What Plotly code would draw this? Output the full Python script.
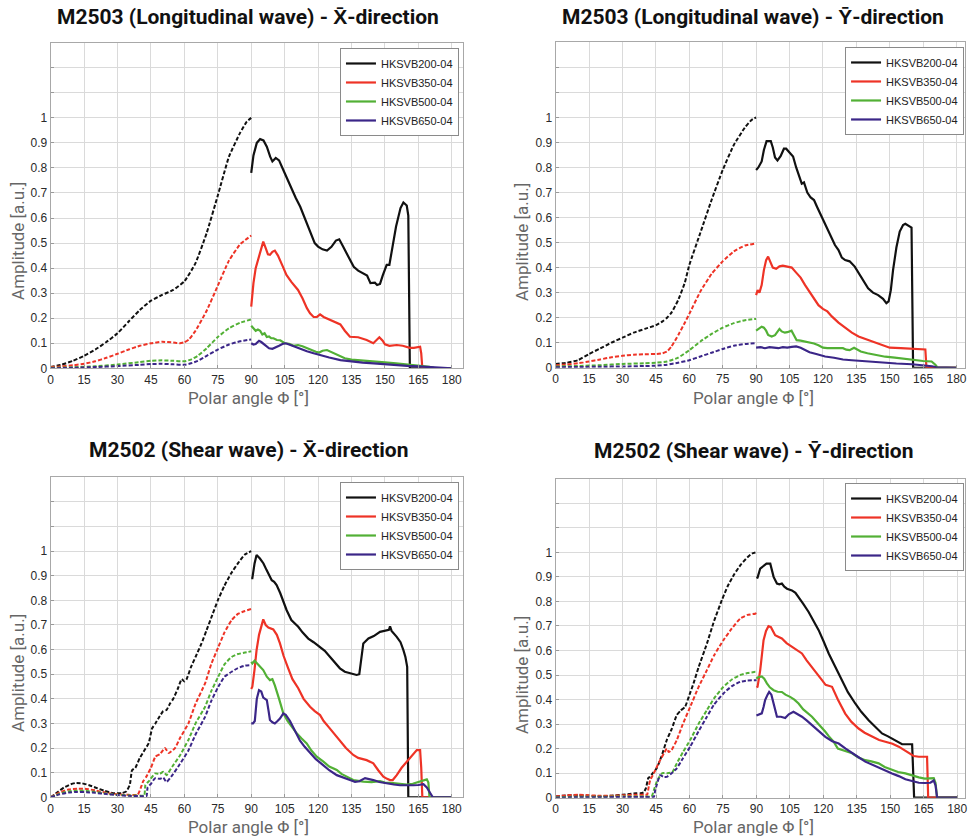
import plotly.graph_objects as go

# ---------------- data ----------------
probes = ["HKSVB200-04", "HKSVB350-04", "HKSVB500-04", "HKSVB650-04"]
colors = ["#111111", "#ee3326", "#52b035", "#3b2688"]
titles = ["M2503 (Longitudinal wave) - X\u0304-direction",
          "M2503 (Longitudinal wave) - Y\u0304-direction",
          "M2502 (Shear wave) - X\u0304-direction",
          "M2502 (Shear wave) - Y\u0304-direction"]
x_ticks = [0, 15, 30, 45, 60, 75, 90, 105, 120, 135, 150, 165, 180]
y_ticks = [0, 0.1, 0.2, 0.3, 0.4, 0.5, 0.6, 0.7, 0.8, 0.9, 1.0, 1.1, 1.2]
y_ticklabels = ["0", "0.1", "0.2", "0.3", "0.4", "0.5", "0.6", "0.7", "0.8", "0.9", "1", "", ""]

# ---- Panel 1: M2503 longitudinal, X direction ----
lx_200_in_deg = [0, 5, 10, 15, 20, 25, 30, 35, 40, 45, 50, 55, 60, 65, 70, 75, 80, 85, 88, 90]
lx_200_in_amp = [0.005, 0.015, 0.03, 0.05, 0.075, 0.105, 0.14, 0.187, 0.233, 0.27, 0.293, 0.313, 0.347, 0.42, 0.54, 0.69, 0.845, 0.94, 0.985, 1.0]
lx_350_in_deg = [0, 5, 10, 15, 20, 25, 30, 35, 40, 45, 50, 55, 58, 60, 62, 65, 70, 75, 80, 85, 90]
lx_350_in_amp = [0.005, 0.008, 0.012, 0.018, 0.028, 0.042, 0.058, 0.075, 0.09, 0.1, 0.106, 0.103, 0.1, 0.104, 0.115, 0.15, 0.23, 0.33, 0.43, 0.495, 0.53]
lx_500_in_deg = [0, 10, 20, 30, 40, 45, 50, 55, 60, 63, 66, 70, 75, 80, 85, 90]
lx_500_in_amp = [0.002, 0.004, 0.008, 0.015, 0.025, 0.03, 0.032, 0.03, 0.028, 0.035, 0.05, 0.08, 0.125, 0.16, 0.182, 0.195]
lx_650_in_deg = [0, 10, 20, 30, 40, 45, 50, 55, 60, 63, 66, 70, 75, 80, 85, 90]
lx_650_in_amp = [0.0, 0.002, 0.005, 0.009, 0.014, 0.017, 0.018, 0.016, 0.014, 0.02, 0.03, 0.05, 0.075, 0.095, 0.108, 0.115]

lx_200_out_deg = [90, 91, 92.5, 94, 95.5, 97, 98.5, 99.5, 101, 102.5, 104, 105.5, 107.5, 110, 112, 114, 116.5, 118.5, 120, 122, 124, 126, 128, 129.5, 131, 133, 136, 138, 140, 142, 143.5, 145.5, 146.5, 147.8, 149, 150.8, 152, 153.5, 155, 157, 158.3, 159.8, 160.5, 161.2, 170, 180]
lx_200_out_amp = [0.78, 0.85, 0.9, 0.915, 0.91, 0.885, 0.845, 0.826, 0.84, 0.83, 0.8, 0.77, 0.725, 0.68, 0.645, 0.6, 0.54, 0.5, 0.486, 0.475, 0.47, 0.485, 0.51, 0.515, 0.49, 0.455, 0.405, 0.39, 0.38, 0.37, 0.34, 0.342, 0.333, 0.337, 0.37, 0.413, 0.413, 0.49, 0.566, 0.64, 0.662, 0.65, 0.61, 0.0, 0.0, 0.0]
lx_350_out_deg = [90, 91, 92, 93, 94.5, 95.4, 96.5, 97.5, 98.4, 99.5, 100.6, 102, 104, 105.8, 108, 111, 113, 115, 116.4, 118, 119.5, 120.9, 122.5, 124.6, 127, 130, 132, 134.3, 138, 141.8, 144.8, 146.5, 147.5, 149, 150, 152, 155.3, 158, 161.2, 163, 165.8, 166.3, 166.8, 180]
lx_350_out_amp = [0.246, 0.34, 0.4, 0.43, 0.47, 0.506, 0.48, 0.455, 0.453, 0.465, 0.47, 0.45, 0.41, 0.373, 0.345, 0.313, 0.28, 0.24, 0.22, 0.205, 0.205, 0.215, 0.205, 0.196, 0.185, 0.175, 0.15, 0.126, 0.124, 0.113, 0.1, 0.115, 0.124, 0.11, 0.096, 0.09, 0.093, 0.09, 0.082, 0.082, 0.086, 0.06, 0.0, 0.0]
lx_500_out_deg = [90, 91, 92, 93, 94, 95, 96, 97, 98, 99, 100, 101.5, 103, 105, 107, 109, 111, 113, 115, 117, 119, 120.5, 122, 124, 126, 128, 130, 132, 135, 140, 145, 150, 155, 160, 165, 168, 170, 172, 180]
lx_500_out_amp = [0.17, 0.16, 0.15, 0.155, 0.15, 0.135, 0.14, 0.125, 0.127, 0.12, 0.12, 0.113, 0.112, 0.1, 0.098, 0.09, 0.093, 0.088, 0.08, 0.073, 0.066, 0.063, 0.07, 0.073, 0.065, 0.055, 0.046, 0.04, 0.035, 0.032, 0.028, 0.024, 0.02, 0.016, 0.012, 0.01, 0.006, 0.002, 0.0]
lx_650_out_deg = [90, 91, 92, 93.5, 94.5, 96, 97, 98, 99.5, 101, 102.5, 104, 105.5, 107, 109, 112, 115, 118, 121, 125, 130, 135, 140, 145, 150, 155, 160, 165, 170, 172, 180]
lx_650_out_amp = [0.1, 0.095, 0.097, 0.11, 0.105, 0.093, 0.085, 0.08, 0.078, 0.083, 0.09, 0.097, 0.1, 0.095, 0.088, 0.077, 0.068, 0.06, 0.052, 0.043, 0.033, 0.027, 0.023, 0.02, 0.016, 0.013, 0.01, 0.008, 0.005, 0.003, 0.0]

# ---- Panel 2: M2503 longitudinal, Y direction ----
ly_200_in_deg = [0, 5, 10, 15, 20, 25, 30, 35, 40, 45, 48, 50, 52, 55, 58, 60, 65, 70, 75, 80, 85, 88, 90]
ly_200_in_amp = [0.015, 0.02, 0.03, 0.055, 0.077, 0.1, 0.12, 0.14, 0.155, 0.17, 0.185, 0.2, 0.22, 0.27, 0.34, 0.41, 0.54, 0.67, 0.79, 0.89, 0.96, 0.99, 1.0]
ly_350_in_deg = [0, 5, 10, 15, 20, 25, 30, 35, 40, 45, 48, 50, 52, 55, 58, 60, 65, 70, 75, 80, 85, 90]
ly_350_in_amp = [0.01, 0.013, 0.018, 0.025, 0.033, 0.042, 0.048, 0.052, 0.054, 0.055, 0.058, 0.065, 0.085, 0.13, 0.18, 0.215, 0.305, 0.375, 0.425, 0.465, 0.488, 0.497]
ly_500_in_deg = [0, 10, 20, 30, 40, 45, 50, 55, 60, 65, 70, 75, 80, 85, 90]
ly_500_in_amp = [0.005, 0.007, 0.01, 0.015, 0.018, 0.02, 0.025, 0.04, 0.07, 0.105, 0.135, 0.16, 0.178, 0.19, 0.195]
ly_650_in_deg = [0, 10, 20, 30, 40, 45, 50, 55, 60, 65, 70, 75, 80, 85, 90]
ly_650_in_amp = [0.002, 0.003, 0.004, 0.005, 0.007, 0.008, 0.012, 0.02, 0.03, 0.045, 0.06, 0.075, 0.088, 0.095, 0.098]

ly_200_out_deg = [90, 91, 92.5, 93.5, 94.7, 96.6, 97.5, 98.5, 99.6, 101, 102.5, 103.5, 105, 106.6, 108, 109.5, 110.5, 111.5, 113, 114.5, 116, 117.5, 119.4, 121, 123, 125.4, 127, 128.5, 130, 132, 134.3, 136, 138, 140.3, 142.5, 144.8, 147, 148.5, 149.5, 150.5, 151.5, 153, 154.5, 156, 157, 158.5, 159.8, 160.5, 170, 180]
ly_200_out_amp = [0.79, 0.8, 0.824, 0.87, 0.905, 0.905, 0.88, 0.84, 0.828, 0.845, 0.875, 0.875, 0.86, 0.844, 0.8, 0.76, 0.735, 0.74, 0.7, 0.68, 0.67, 0.64, 0.604, 0.57, 0.53, 0.49, 0.47, 0.44, 0.43, 0.425, 0.404, 0.38, 0.35, 0.317, 0.3, 0.29, 0.275, 0.258, 0.265, 0.31, 0.39, 0.48, 0.544, 0.57, 0.575, 0.565, 0.56, 0.0, 0.0, 0.0]
ly_350_out_deg = [90, 90.7, 91.5, 92.5, 93.5, 94.5, 95.4, 96.5, 97.5, 99, 100.5, 102, 104, 106, 108, 110, 112, 114, 116, 118, 120, 122, 124, 127, 130, 133, 136, 139, 142, 145, 148, 150, 155, 160, 163, 166, 166.5, 180]
ly_350_out_amp = [0.29, 0.31, 0.3, 0.33, 0.39, 0.43, 0.444, 0.42, 0.4, 0.395, 0.405, 0.408, 0.405, 0.4, 0.38, 0.36, 0.33, 0.305, 0.28, 0.25, 0.235, 0.225, 0.205, 0.18, 0.16, 0.14, 0.125, 0.115, 0.105, 0.095, 0.085, 0.08, 0.078, 0.076, 0.075, 0.073, 0.0, 0.0]
ly_500_out_deg = [90, 91, 92.5, 93.5, 94.5, 95.4, 97, 98.5, 99.5, 100.5, 101.5, 102.9, 104, 105.9, 107, 108.2, 110, 112, 114.1, 116, 118, 120, 122, 125, 129, 130.5, 132, 134, 137, 140, 144.8, 148, 152.3, 156, 159.8, 165, 168.8, 170.5, 171.5, 180]
ly_500_out_amp = [0.148, 0.155, 0.164, 0.16, 0.148, 0.131, 0.125, 0.13, 0.145, 0.155, 0.145, 0.14, 0.142, 0.148, 0.13, 0.11, 0.108, 0.105, 0.102, 0.097, 0.09, 0.08, 0.078, 0.077, 0.078, 0.072, 0.07, 0.08, 0.065, 0.058, 0.048, 0.044, 0.04, 0.036, 0.03, 0.027, 0.025, 0.012, 0.0, 0.0]
ly_650_out_deg = [90, 92, 94, 96, 98, 100, 102, 104, 106, 108, 110, 112, 114, 117, 121, 125, 129, 133, 137, 142, 147, 153, 160, 165, 169, 171, 180]
ly_650_out_amp = [0.08, 0.082, 0.078, 0.082, 0.08, 0.078, 0.082, 0.08, 0.083, 0.085, 0.08, 0.072, 0.062, 0.055, 0.045, 0.04, 0.033, 0.03, 0.027, 0.023, 0.02, 0.017, 0.014, 0.01, 0.006, 0.002, 0.0]

# ---- Panel 3: M2502 shear, X direction ----
sx_200_in_deg = [0, 3, 6, 9, 11, 14, 17, 20, 24, 28, 32, 34, 35.5, 36.5, 38, 40, 42, 44, 45.5, 47, 49, 50.5, 52, 53.5, 55, 57, 58.8, 60, 61, 63, 65, 67.7, 70, 72.5, 75, 78, 81, 84, 87, 90]
sx_200_in_amp = [0.0, 0.02, 0.04, 0.053, 0.058, 0.057, 0.05, 0.04, 0.027, 0.017, 0.017, 0.025, 0.05, 0.11, 0.12, 0.16, 0.19, 0.22, 0.28, 0.3, 0.33, 0.35, 0.355, 0.38, 0.4, 0.44, 0.48, 0.47, 0.48, 0.53, 0.57, 0.625, 0.68, 0.74, 0.8, 0.86, 0.91, 0.95, 0.985, 1.0]
sx_350_in_deg = [0, 4, 8, 12, 16, 20, 25, 30, 35, 39, 40.5, 41.5, 43, 45, 47, 49, 51.3, 53, 55.8, 58, 61.8, 65, 69.3, 72, 75.2, 78, 81.2, 84, 87.2, 90]
sx_350_in_amp = [0.0, 0.02, 0.032, 0.035, 0.034, 0.028, 0.018, 0.012, 0.01, 0.01, 0.04, 0.065, 0.085, 0.12, 0.165, 0.175, 0.2, 0.18, 0.2, 0.24, 0.3, 0.38, 0.463, 0.54, 0.61, 0.67, 0.72, 0.745, 0.757, 0.765]
sx_500_in_deg = [0, 4, 8, 12, 16, 20, 25, 30, 35, 40, 42, 42.5, 44, 46.8, 49, 50.5, 52, 54.6, 58, 61.8, 65, 69.3, 72, 75.2, 78, 81.2, 84, 87.2, 90]
sx_500_in_amp = [0.0, 0.015, 0.024, 0.027, 0.026, 0.022, 0.015, 0.01, 0.008, 0.007, 0.007, 0.05, 0.065, 0.097, 0.095, 0.104, 0.09, 0.125, 0.17, 0.233, 0.3, 0.368, 0.43, 0.49, 0.54, 0.57, 0.582, 0.588, 0.593]
sx_650_in_deg = [0, 4, 8, 12, 16, 20, 25, 30, 35, 40, 43, 43.5, 45, 46.8, 49, 50.5, 52, 54.6, 58, 61.8, 65, 69.3, 72, 75.2, 78, 81.2, 84, 87.2, 90]
sx_650_in_amp = [0.0, 0.012, 0.019, 0.022, 0.021, 0.018, 0.013, 0.009, 0.006, 0.005, 0.005, 0.04, 0.055, 0.077, 0.075, 0.08, 0.062, 0.09, 0.135, 0.19, 0.255, 0.327, 0.39, 0.449, 0.49, 0.51, 0.525, 0.535, 0.537]

sx_200_out_deg = [90, 90.5, 91.5, 92.4, 93.9, 95.5, 96.9, 98, 99.2, 100.3, 101.4, 103, 104.5, 105.9, 108, 111.1, 113, 115.6, 118, 120.9, 123, 125.4, 127.5, 129.8, 132, 134.3, 137.3, 138.5, 139.5, 140.3, 142.6, 145, 147.8, 150.8, 151.8, 152.3, 153, 155.3, 157, 158.3, 159.2, 160, 160.5, 162, 180]
sx_200_out_amp = [0.89, 0.89, 0.95, 0.984, 0.97, 0.95, 0.923, 0.9, 0.882, 0.875, 0.862, 0.83, 0.79, 0.76, 0.72, 0.693, 0.67, 0.645, 0.63, 0.61, 0.595, 0.57, 0.55, 0.524, 0.51, 0.503, 0.497, 0.5, 0.56, 0.625, 0.645, 0.655, 0.672, 0.676, 0.68, 0.695, 0.676, 0.652, 0.63, 0.598, 0.57, 0.53, 0.0, 0.0, 0.0]
sx_350_out_deg = [90, 90.5, 91.5, 92.4, 93.5, 94.5, 95.4, 96.5, 97.7, 99.9, 101.5, 102.9, 104.5, 106.6, 108.5, 111.1, 113.5, 116.4, 118.5, 120.9, 122.5, 124.6, 127, 129.8, 132.5, 135.8, 138, 141.8, 144.8, 147, 149.3, 151, 152.3, 153.5, 155.3, 157.5, 159.8, 162, 164.3, 165.8, 166.3, 166.8, 180]
sx_350_out_amp = [0.44, 0.449, 0.52, 0.598, 0.66, 0.7, 0.723, 0.7, 0.69, 0.682, 0.66, 0.625, 0.575, 0.524, 0.48, 0.443, 0.4, 0.368, 0.35, 0.334, 0.31, 0.287, 0.26, 0.233, 0.2, 0.172, 0.16, 0.151, 0.138, 0.11, 0.084, 0.075, 0.07, 0.07, 0.09, 0.12, 0.145, 0.17, 0.192, 0.192, 0.12, 0.0, 0.0]
sx_500_out_deg = [90, 90.5, 91.5, 93, 95.4, 97, 98.4, 99.5, 100.6, 102.5, 104.4, 106.3, 108.2, 110.4, 112.5, 114.9, 117, 119.4, 122.4, 125, 128.4, 130.5, 132.9, 135.8, 140.3, 144, 147.8, 150, 153.7, 157, 159.8, 162.5, 165.8, 167.5, 168.8, 169.5, 170, 180]
sx_500_out_amp = [0.55, 0.544, 0.555, 0.54, 0.517, 0.49, 0.476, 0.48, 0.455, 0.4, 0.341, 0.31, 0.287, 0.26, 0.24, 0.219, 0.19, 0.165, 0.145, 0.125, 0.111, 0.095, 0.084, 0.07, 0.064, 0.062, 0.066, 0.06, 0.058, 0.055, 0.052, 0.055, 0.064, 0.07, 0.073, 0.06, 0.0, 0.0]
sx_650_out_deg = [90, 90.8, 91.6, 92.5, 93.5, 94.5, 95.4, 96.2, 97, 97.8, 98.4, 99.5, 100.6, 101.8, 102.9, 104.4, 105.5, 107.4, 109.5, 111.9, 114, 116.4, 119, 122.4, 125, 128.4, 131, 134.3, 136.6, 138.5, 141.1, 143, 144.8, 147.5, 150.8, 154, 156.8, 160, 162.8, 165, 167.3, 168.8, 170.3, 171.5, 180]
sx_650_out_amp = [0.3, 0.3, 0.31, 0.4, 0.435, 0.43, 0.405, 0.4, 0.395, 0.35, 0.314, 0.305, 0.3, 0.31, 0.32, 0.341, 0.335, 0.31, 0.27, 0.23, 0.205, 0.18, 0.155, 0.13, 0.11, 0.09, 0.08, 0.07, 0.063, 0.065, 0.078, 0.075, 0.07, 0.062, 0.056, 0.052, 0.049, 0.048, 0.049, 0.05, 0.053, 0.04, 0.015, 0.0, 0.0]

# ---- Panel 4: M2502 shear, Y direction ----
sy_200_in_deg = [0, 3, 6, 10, 15, 20, 25, 30, 33, 36, 38, 39.5, 40.5, 41.5, 42.4, 43.5, 45.3, 47.5, 49.8, 52, 54.3, 56, 58, 60, 61.8, 64, 67.8, 71, 74.5, 77, 80, 83, 86, 88, 90]
sy_200_in_amp = [0.005, 0.008, 0.01, 0.01, 0.008, 0.006, 0.008, 0.012, 0.015, 0.018, 0.018, 0.022, 0.04, 0.08, 0.086, 0.1, 0.12, 0.17, 0.235, 0.28, 0.337, 0.355, 0.37, 0.42, 0.466, 0.53, 0.628, 0.72, 0.805, 0.86, 0.91, 0.95, 0.98, 0.995, 1.0]
sy_350_in_deg = [0, 5, 10, 15, 20, 25, 30, 35, 40, 41, 41.8, 42.4, 44, 46.8, 48.5, 49.8, 50.7, 52, 54.3, 57, 60.3, 64, 67.8, 71, 75.2, 79, 82.7, 86, 89.5, 90]
sy_350_in_amp = [0.005, 0.01, 0.012, 0.01, 0.008, 0.008, 0.01, 0.012, 0.012, 0.012, 0.05, 0.072, 0.1, 0.153, 0.18, 0.2, 0.186, 0.195, 0.235, 0.3, 0.37, 0.45, 0.52, 0.58, 0.642, 0.69, 0.73, 0.745, 0.75, 0.752]
sy_500_in_deg = [0, 10, 20, 30, 40, 43, 44, 45.3, 46.5, 47.8, 50, 52.3, 54.3, 57, 60.3, 64, 67.8, 71, 75.2, 79, 82.7, 86, 89.5, 90]
sy_500_in_amp = [0.002, 0.004, 0.004, 0.005, 0.005, 0.005, 0.03, 0.065, 0.085, 0.1, 0.1, 0.104, 0.14, 0.185, 0.235, 0.3, 0.357, 0.405, 0.452, 0.482, 0.5, 0.508, 0.513, 0.513]
sy_650_in_deg = [0, 10, 20, 30, 40, 44, 44.6, 45.3, 46.8, 48.3, 49.8, 52, 54.3, 57, 60.3, 64, 67.8, 71, 75.2, 79, 82.7, 86, 89.5, 90]
sy_650_in_amp = [0.0, 0.002, 0.002, 0.003, 0.003, 0.003, 0.03, 0.052, 0.092, 0.085, 0.085, 0.1, 0.12, 0.16, 0.208, 0.27, 0.33, 0.38, 0.425, 0.455, 0.472, 0.478, 0.479, 0.48]

sy_200_out_deg = [90, 90.5, 91.7, 93, 94.5, 96.2, 97, 97.7, 99.2, 100.3, 101.4, 102.5, 103.7, 105.9, 107.5, 108.9, 111, 113.4, 115.5, 117.9, 120, 122.4, 125, 128.4, 131, 134.3, 137, 140.3, 143, 146.3, 149, 152.3, 155.3, 157.5, 159.8, 160.3, 160.7, 180]
sy_200_out_amp = [0.895, 0.897, 0.934, 0.945, 0.954, 0.954, 0.93, 0.9, 0.873, 0.87, 0.873, 0.86, 0.852, 0.845, 0.835, 0.818, 0.79, 0.757, 0.725, 0.683, 0.64, 0.588, 0.54, 0.479, 0.43, 0.384, 0.35, 0.316, 0.29, 0.262, 0.25, 0.235, 0.218, 0.218, 0.218, 0.1, 0.0, 0.0]
sy_350_out_deg = [90, 90.5, 91.7, 93.2, 94.3, 95.4, 96.5, 97.5, 98.4, 100, 101.4, 103.5, 105.9, 108, 110.4, 112.5, 114.9, 117, 119.4, 121, 123.9, 126.5, 129.8, 132.5, 135.8, 138.5, 141.8, 145, 147.8, 151, 153.8, 156, 158.3, 160.5, 162.8, 165, 166.5, 167, 180]
sy_350_out_amp = [0.45, 0.452, 0.52, 0.642, 0.68, 0.699, 0.695, 0.675, 0.662, 0.655, 0.649, 0.63, 0.615, 0.605, 0.588, 0.56, 0.533, 0.51, 0.479, 0.46, 0.452, 0.4, 0.343, 0.31, 0.282, 0.265, 0.248, 0.235, 0.228, 0.22, 0.208, 0.195, 0.181, 0.17, 0.167, 0.167, 0.167, 0.0, 0.0]
sy_500_out_deg = [90, 90.5, 92.4, 93.5, 94.7, 96, 97.7, 99.5, 101.4, 103, 105.1, 107, 108.9, 111, 114.9, 117, 120.9, 122.5, 124.6, 126.5, 128.4, 130.5, 132.9, 135.5, 138.8, 141.5, 144.8, 147.5, 150.8, 153.5, 156.8, 159.8, 162.8, 165.5, 168, 169.5, 170.3, 171, 180]
sy_500_out_amp = [0.485, 0.49, 0.494, 0.485, 0.466, 0.45, 0.438, 0.432, 0.431, 0.42, 0.411, 0.4, 0.384, 0.36, 0.33, 0.31, 0.269, 0.25, 0.228, 0.2, 0.194, 0.19, 0.181, 0.165, 0.153, 0.148, 0.14, 0.125, 0.113, 0.105, 0.099, 0.09, 0.083, 0.078, 0.079, 0.08, 0.06, 0.0, 0.0]
sy_650_out_deg = [90, 90.5, 92.4, 93.2, 93.9, 95, 95.7, 96.7, 97.7, 98.5, 99.2, 101, 102.9, 104.5, 106.6, 108.5, 110.4, 112.5, 114.9, 117.5, 120.9, 124, 126.9, 130, 132.9, 135.8, 138.8, 141.8, 144.8, 147.8, 150.8, 153.8, 156.8, 159.8, 162.8, 165.5, 168, 169.5, 170.3, 171, 180]
sy_650_out_amp = [0.335, 0.337, 0.344, 0.37, 0.398, 0.42, 0.431, 0.42, 0.384, 0.35, 0.33, 0.33, 0.325, 0.34, 0.35, 0.34, 0.33, 0.315, 0.296, 0.275, 0.248, 0.23, 0.221, 0.2, 0.181, 0.165, 0.147, 0.135, 0.12, 0.11, 0.099, 0.088, 0.075, 0.068, 0.061, 0.06, 0.061, 0.07, 0.05, 0.0, 0.0]

panels = [
    [(lx_200_in_deg, lx_200_in_amp, lx_200_out_deg, lx_200_out_amp),
     (lx_350_in_deg, lx_350_in_amp, lx_350_out_deg, lx_350_out_amp),
     (lx_500_in_deg, lx_500_in_amp, lx_500_out_deg, lx_500_out_amp),
     (lx_650_in_deg, lx_650_in_amp, lx_650_out_deg, lx_650_out_amp)],
    [(ly_200_in_deg, ly_200_in_amp, ly_200_out_deg, ly_200_out_amp),
     (ly_350_in_deg, ly_350_in_amp, ly_350_out_deg, ly_350_out_amp),
     (ly_500_in_deg, ly_500_in_amp, ly_500_out_deg, ly_500_out_amp),
     (ly_650_in_deg, ly_650_in_amp, ly_650_out_deg, ly_650_out_amp)],
    [(sx_200_in_deg, sx_200_in_amp, sx_200_out_deg, sx_200_out_amp),
     (sx_350_in_deg, sx_350_in_amp, sx_350_out_deg, sx_350_out_amp),
     (sx_500_in_deg, sx_500_in_amp, sx_500_out_deg, sx_500_out_amp),
     (sx_650_in_deg, sx_650_in_amp, sx_650_out_deg, sx_650_out_amp)],
    [(sy_200_in_deg, sy_200_in_amp, sy_200_out_deg, sy_200_out_amp),
     (sy_350_in_deg, sy_350_in_amp, sy_350_out_deg, sy_350_out_amp),
     (sy_500_in_deg, sy_500_in_amp, sy_500_out_deg, sy_500_out_amp),
     (sy_650_in_deg, sy_650_in_amp, sy_650_out_deg, sy_650_out_amp)],
]

# ---------------- layout geometry ----------------
W, H = 973, 839
x_domains = [[0.0521, 0.4762], [0.5711, 0.9913], [0.0521, 0.4762], [0.5711, 0.9913]]
y_domains = [[0.5610, 0.9491], [0.5617, 0.9496], [0.0497, 0.4311], [0.0492, 0.4294]]
x_ranges = [[0, 185.2], [0, 183.6], [0, 185.2], [0, 183.3]]
title_pos = [(0.2549, 0.9797), (0.7739, 0.9797), (0.2549, 0.4636), (0.7739, 0.4625)]
xlab_pos = [(0.2549, 0.5256), (0.7739, 0.5256), (0.2549, 0.0143), (0.7739, 0.0143)]
ylab_pos = [(0.0185, 0.7128), (0.5365, 0.7116), (0.0185, 0.1979), (0.5365, 0.1955)]
legend_pos = [(0.4717, 0.9428), (0.9908, 0.9440), (0.4717, 0.4255), (0.9908, 0.4243)]

fig = go.Figure()
tick_font = dict(family="Liberation Sans, Arial, sans-serif", size=12, color="#2a2a2a")

for p in range(4):
    sfx = "" if p == 0 else str(p + 1)
    lg = "legend" if p == 0 else "legend" + str(p + 1)
    for s in range(4):
        din, ain, dout, aout = panels[p][s]
        fig.add_trace(go.Scatter(
            x=din, y=ain, mode="lines", xaxis="x" + sfx, yaxis="y" + sfx,
            line=dict(color=colors[s], width=2, dash="4px,2px", shape="spline", smoothing=0.4),
            showlegend=False, legend=lg, hoverinfo="skip"))
    for s in range(4):
        din, ain, dout, aout = panels[p][s]
        fig.add_trace(go.Scatter(
            x=dout, y=aout, mode="lines", xaxis="x" + sfx, yaxis="y" + sfx,
            name=probes[s], legend=lg,
            line=dict(color=colors[s], width=2.2)))

    fig.layout["xaxis" + sfx] = dict(
        domain=x_domains[p], range=x_ranges[p], anchor="y" + sfx, automargin=False,
        tickvals=x_ticks, showgrid=True, gridcolor="#dadada", gridwidth=1,
        showline=True, linecolor="#a8a8a8", linewidth=1, mirror=True,
        ticks="inside", ticklen=3, tickcolor="#999", zeroline=False,
        tickfont=tick_font, fixedrange=True)
    fig.layout["yaxis" + sfx] = dict(
        domain=y_domains[p], range=[0, 1.3], anchor="x" + sfx, automargin=False,
        tickvals=y_ticks, ticktext=y_ticklabels, showgrid=True, gridcolor="#dadada", gridwidth=1,
        showline=True, linecolor="#a8a8a8", linewidth=1, mirror=True,
        ticks="inside", ticklen=3, tickcolor="#999", zeroline=False,
        tickfont=tick_font, fixedrange=True)
    fig.layout[lg] = dict(
        x=legend_pos[p][0], y=legend_pos[p][1], xanchor="right", yanchor="top",
        xref="paper", yref="paper",
        bgcolor="white", bordercolor="#8a8a8a", borderwidth=1,
        font=dict(family="Liberation Sans, Arial, sans-serif", size=11, color="#222"),
        itemwidth=30, tracegroupgap=0)

    fig.add_annotation(text="<b>" + titles[p] + "</b>", x=title_pos[p][0], y=title_pos[p][1],
                       xref="paper", yref="paper", xanchor="center", yanchor="middle", showarrow=False,
                       font=dict(family="Roboto, sans-serif", size=21, color="#111"))
    fig.add_annotation(text="Polar angle \u03a6 [\u00b0]", x=xlab_pos[p][0], y=xlab_pos[p][1],
                       xref="paper", yref="paper", xanchor="center", yanchor="middle", showarrow=False,
                       font=dict(family="Roboto, sans-serif", size=17, color="#666"))
    fig.add_annotation(text="Amplitude [a.u.]", x=ylab_pos[p][0], y=ylab_pos[p][1], textangle=-90,
                       xref="paper", yref="paper", xanchor="center", yanchor="middle", showarrow=False,
                       font=dict(family="Roboto, sans-serif", size=17, color="#666"))

fig.update_layout(width=W, height=H, margin=dict(l=0, r=0, t=0, b=0, autoexpand=False),
                  paper_bgcolor="white", plot_bgcolor="white")

fig.write_html("out.html", config={"displayModeBar": False},
               post_script="document.body.style.margin='0';document.body.style.overflow='hidden';")
